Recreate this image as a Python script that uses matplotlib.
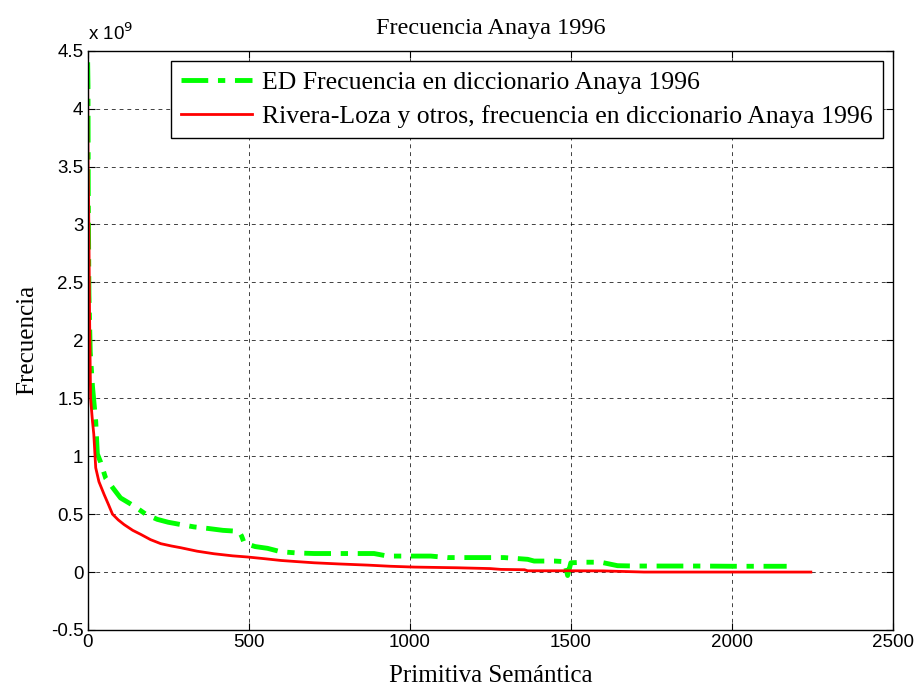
import matplotlib
matplotlib.use('Agg')
import matplotlib.pyplot as plt
import numpy as np

# ED frequency (green), y in units of 1e9
ed_x = [0, 1, 2, 4, 8, 15, 25, 30, 40, 56, 80, 102, 144, 180, 216, 250, 289, 330, 372, 420,
        454, 470, 478, 486, 520, 558, 600, 650, 703, 800, 889, 931, 1000, 1065, 1117,
        1200, 1293, 1366, 1386, 1450, 1480, 1490, 1500, 1540, 1593, 1645, 1700, 1800,
        1900, 2000, 2100, 2170]
ed_y = [4.40, 4.20, 3.2, 2.4, 1.9, 1.6, 1.30, 1.02, 0.95, 0.81, 0.72, 0.64, 0.57, 0.50,
        0.455, 0.43, 0.41, 0.39, 0.377, 0.36, 0.354, 0.35, 0.31, 0.25, 0.22, 0.205,
        0.175, 0.165, 0.16, 0.16, 0.16, 0.138, 0.138, 0.138, 0.125, 0.125, 0.125,
        0.11, 0.095, 0.095, 0.09, -0.03, 0.08, 0.085, 0.085, 0.055, 0.052, 0.052,
        0.052, 0.05, 0.05, 0.05]

# Rivera-Loza et al. (red)
rl_x = [0, 1, 3, 6, 9, 15, 19, 25, 35, 51, 65, 77, 95, 113, 140, 165, 195, 227, 260, 289,
        340, 392, 450, 496, 550, 600, 650, 703, 780, 869, 940, 1013, 1080, 1148, 1250,
        1283, 1356, 1366, 1500, 1600, 1727, 1800, 2000, 2245]
rl_y = [4.20, 3.6, 3.2, 2.2, 1.5, 1.30, 1.19, 0.90, 0.78, 0.67, 0.58, 0.50, 0.45, 0.41,
        0.36, 0.325, 0.28, 0.245, 0.225, 0.21, 0.18, 0.158, 0.14, 0.13, 0.115, 0.10,
        0.09, 0.08, 0.07, 0.06, 0.05, 0.043, 0.04, 0.037, 0.03, 0.023, 0.02, 0.011,
        0.011, 0.01, 0.0, 0.0, 0.0, 0.0]

x_ticks = [0, 500, 1000, 1500, 2000, 2500]
y_ticks = [-0.5, 0, 0.5, 1, 1.5, 2, 2.5, 3, 3.5, 4, 4.5]

serif = ['Liberation Serif', 'DejaVu Serif']
sans = ['Liberation Sans', 'DejaVu Sans']

fig = plt.figure(figsize=(9.17, 6.91), dpi=100)
ax = fig.add_axes([0.0956, 0.0883, 0.8782, 0.8383])

ax.plot(ed_x, ed_y, color='#00ff00', linestyle='-.', linewidth=3.5,
        dashes=(5.5, 2, 1.5, 2), label='ED Frecuencia en diccionario Anaya 1996')
ax.plot(rl_x, rl_y, color='#ff0000', linestyle='-', linewidth=2,
        label='Rivera-Loza y otros, frecuencia en diccionario Anaya 1996')

ax.set_xlim(0, 2500)
ax.set_ylim(-0.5, 4.5)
ax.set_xticks(x_ticks)
ax.set_yticks(y_ticks)
ax.set_xticklabels([str(t) for t in x_ticks], family=sans, fontsize=13.5)
ax.set_yticklabels([('%g' % t) for t in y_ticks], family=sans, fontsize=13.5)
ax.tick_params(direction='in', top=True, right=True, length=5, width=0.8, pad=3)
ax.grid(True, color='black', linestyle=(0, (4, 4)), linewidth=0.7, alpha=0.75)
for s in ax.spines.values():
    s.set_linewidth(1)

ax.text(0.0, 1.012, r'x 10$^{9}$', transform=ax.transAxes, family=sans,
        fontsize=13.5, ha='left', va='bottom')

ax.set_title('Frecuencia Anaya 1996', family=serif, fontsize=17.5, pad=12)
ax.set_xlabel('Primitiva Semántica', family=serif, fontsize=18, labelpad=10)
ax.set_ylabel('Frecuencia', family=serif, fontsize=18, labelpad=9)

leg = ax.legend(loc='upper right', bbox_to_anchor=(0.988, 0.982), prop={'family': serif, 'size': 18.5},
                fancybox=False, edgecolor='black', framealpha=1, handlelength=2.75,
                borderpad=0.4, labelspacing=0.42, handletextpad=0.4, borderaxespad=0)
leg.get_frame().set_linewidth(1)

fig.savefig('out.png', dpi=100)
